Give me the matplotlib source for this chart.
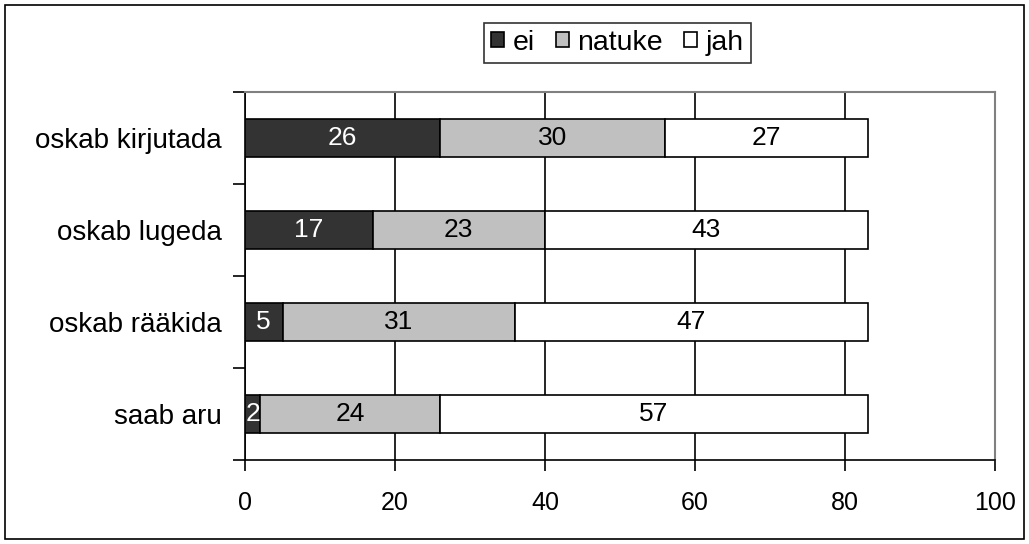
import matplotlib as mpl
mpl.use('Agg')
import numpy as np
import matplotlib.pyplot as plt
from matplotlib.patches import Rectangle

categories = ['saab aru', 'oskab rääkida', 'oskab lugeda', 'oskab kirjutada']
ei = [2, 5, 17, 26]
natuke = [24, 31, 23, 30]
jah = [57, 47, 43, 27]
series_names = ['ei', 'natuke', 'jah']
colors = ['#333333', '#c0c0c0', '#ffffff']
text_colors = ['white', 'black', 'black']

plt.rcParams['font.family'] = ['Liberation Sans', 'DejaVu Sans']

fig = plt.figure(figsize=(10.29, 5.44), dpi=100)
ax = fig.add_axes([0.2381, 0.1544, 0.7289, 0.6765])

y = np.arange(len(categories))
left = np.zeros(len(categories))
for name, vals, c, tc in zip(series_names, [ei, natuke, jah], colors, text_colors):
    bars = ax.barh(y, vals, left=left, height=0.41, color=c, edgecolor='black',
                   linewidth=1.2, label=name, zorder=3)
    for b, v in zip(bars, vals):
        ax.text(b.get_x() + b.get_width() / 2, b.get_y() + b.get_height() / 2, str(v),
                ha='center', va='center', color=tc, fontsize=19, zorder=4)
    left += np.array(vals)

ax.set_xlim(0, 100)
ax.set_ylim(-0.5, len(categories) - 0.5)
ax.set_xticks([0, 20, 40, 60, 80, 100])
ax.xaxis.grid(True, color='black', linewidth=1.2, zorder=0)
ax.set_axisbelow(True)
ax.tick_params(axis='x', labelsize=18, length=8, width=1.2, direction='out', pad=14)

ax.set_yticks(np.arange(-0.5, len(categories), 1))
ax.set_yticklabels([])
ax.set_yticks(y, minor=True)
ax.set_yticklabels(categories, minor=True)
ax.tick_params(axis='y', which='major', length=9, width=1.2, direction='out')
ax.tick_params(axis='y', which='minor', length=0, labelsize=20, pad=17)

for s in ['top', 'right']:
    ax.spines[s].set_color('#808080')
    ax.spines[s].set_linewidth(1.5)
for s in ['left', 'bottom']:
    ax.spines[s].set_color('black')
    ax.spines[s].set_linewidth(1.2)

leg = ax.legend(loc='center', bbox_to_anchor=(0.6, 0.921), bbox_transform=fig.transFigure,
                ncol=3, fontsize=20.5, frameon=True, fancybox=False, handlelength=0.45,
                handleheight=0.45, handletextpad=0.3, columnspacing=0.75, borderpad=0.25,
                borderaxespad=0)
leg.get_frame().set_edgecolor('black')
leg.get_frame().set_linewidth(1.2)

fig.patches.append(Rectangle((0.005, 0.01), 0.99, 0.98, transform=fig.transFigure,
                             fill=False, edgecolor='black', linewidth=1.2))

fig.savefig('out.png', dpi=100)
